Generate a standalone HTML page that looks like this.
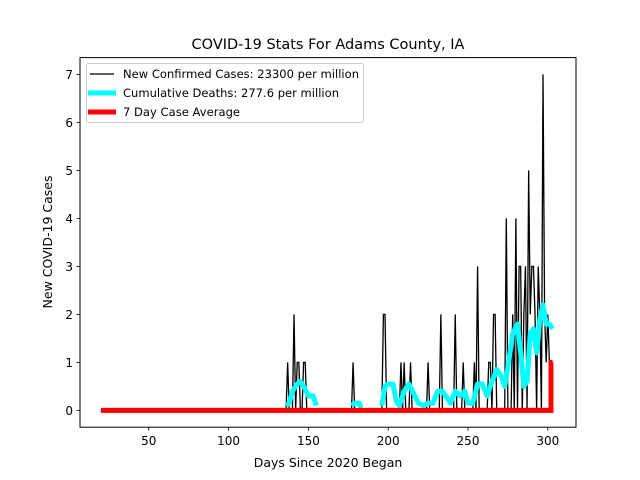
<!DOCTYPE html>
<html><head><meta charset="utf-8"><style>body{margin:0;background:#fff}svg{display:block;font-family:"DejaVu Sans","Liberation Sans",sans-serif}</style></head>
<body>
<svg id="chart" width="640" height="480">
<rect width="640" height="480" fill="#fff"/>
<text x="328" y="49" font-size="14.5" text-anchor="middle">COVID-19 Stats For Adams County, IA</text>
<g id="plot"></g>
<rect x="80" y="57.6" width="496" height="369.6" fill="none" stroke="#000" stroke-width="1"/>
<g id="axes"></g>
<text x="328" y="467" font-size="12.5" text-anchor="middle">Days Since 2020 Began</text>
<text transform="translate(52,242) rotate(-90)" font-size="12.5" text-anchor="middle">New COVID-19 Cases</text>
<g>
<rect x="86.5" y="63.5" width="277" height="59" rx="2" fill="#fff" fill-opacity="0.8" stroke="#ccc"/>
<line x1="90" y1="74" x2="114" y2="74" stroke="#000" stroke-width="1.3"/>
<text x="123" y="78" font-size="11.5" textLength="236">New Confirmed Cases: 23300 per million</text>
<line x1="88" y1="93" x2="116" y2="93" stroke="#00ffff" stroke-width="5"/>
<text x="123" y="97" font-size="11.5" textLength="216">Cumulative Deaths: 277.6 per million</text>
<line x1="88" y1="112" x2="116" y2="112" stroke="#ff0000" stroke-width="5"/>
<text x="123" y="116" font-size="11.5" textLength="117">7 Day Case Average</text>
</g>
</svg>
<script>
const caseDays = [137,141,143,144,147,148,178,197,198,208,210,214,225,233,242,247,254,256,263,264,266,267,274,278,280,282,283,285,286,288,289,290,291,292,294,295,297,298,299,300,301];
const caseVals = [1,2,1,1,1,1,1,2,2,1,1,1,1,2,2,1,1,3,1,1,2,2,4,2,4,3,3,2,3,5,2,3,3,2,3,2,7,2,1,2,1];
const deathDays = [136,138,140,143,145,147,150,153,155,null,177,179,182,183,null,196,198,200,203,205,207,210,213,216,219,222,225,228,231,234,236,239,242,245,248,250,253,256,259,262,265,268,271,273,275,278,281,283,285,287,289,291,293,295,297,299,301,303];
const deathVals = [0.1,0.15,0.4,0.55,0.6,0.5,0.3,0.3,0.1,null,0.1,0.15,0.15,0.05,null,0.1,0.5,0.55,0.55,0.2,0.1,0.4,0.55,0.35,0.15,0.1,0.15,0.15,0.4,0.4,0.3,0.15,0.4,0.3,0.4,0.15,0.15,0.55,0.55,0.3,0.6,0.85,0.7,0.5,0.9,1.6,1.8,1.2,0.5,0.6,1.6,1.7,1.2,1.9,2.2,1.8,1.8,1.7];
const avgDays = [20,302,302,303];
const avgVals = [0,0,1,1];
const xTicks = [50,100,150,200,250,300];
const yTicks = [0,1,2,3,4,5,6,7];
const firstDay = 20, lastDay = 303;

const X = d => 69 + d*1.596;
const Y = v => 410.4 - v*48;
const NS = 'http://www.w3.org/2000/svg';
const plot = document.getElementById('plot'), axes = document.getElementById('axes');
function mk(tag, attrs, parent){const e=document.createElementNS(NS,tag);for(const k in attrs)e.setAttribute(k,attrs[k]);parent.appendChild(e);return e;}

const daily = {};
for (let i=0;i<caseDays.length;i++) daily[caseDays[i]] = caseVals[i];
let pts = [];
for (let d=firstDay; d<=lastDay; d++) pts.push(X(d).toFixed(2)+','+Y(daily[d]||0).toFixed(2));
const cl = mk('polyline',{points:pts.join(' '),fill:'none',stroke:'#000','stroke-width':1.3,'stroke-linejoin':'miter'},plot);



let segs = [], cur = [];
for (let i=0;i<deathDays.length;i++){
  if (deathDays[i]===null){ if(cur.length) segs.push(cur); cur=[]; continue; }
  cur.push(X(deathDays[i]).toFixed(2)+','+Y(deathVals[i]).toFixed(2));
}
if (cur.length) segs.push(cur);
segs.forEach(s=>{
  const p = mk('polyline',{points:s.join(' '),fill:'none',stroke:'#00ffff','stroke-width':5,'stroke-linejoin':'round','stroke-linecap':'butt'},plot);
  
  
});

const ap = avgDays.map((d,i)=>X(d).toFixed(2)+','+Y(avgVals[i]).toFixed(2));
const al = mk('polyline',{points:ap.join(' '),fill:'none',stroke:'#ff0000','stroke-width':5},plot);



xTicks.forEach(t=>{
  const l = mk('line',{x1:X(t),x2:X(t),y1:427.2,y2:430.7,stroke:'#000','stroke-width':0.8},axes);
  
  
  const tx = mk('text',{x:X(t),y:445,'font-size':12,'text-anchor':'middle'},axes);
  tx.textContent = t;
  
  
});
yTicks.forEach(t=>{
  const l = mk('line',{x1:76.5,x2:80,y1:Y(t),y2:Y(t),stroke:'#000','stroke-width':0.8},axes);
  
  
  const tx = mk('text',{x:73,y:Y(t)+4.5,'font-size':12,'text-anchor':'end'},axes);
  tx.textContent = t;
  
  
});
</script>
</body></html>
